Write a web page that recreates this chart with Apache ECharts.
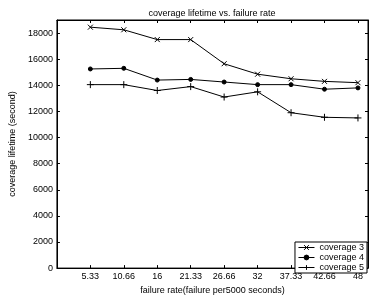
<!DOCTYPE html>
<html>
<head>
<meta charset="utf-8">
<script src="https://cdn.jsdelivr.net/npm/echarts@6/dist/echarts.min.js"></script>
<style>
  html, body { margin: 0; padding: 0; background: #fff; }
  #chart { width: 370px; height: 300px; }
</style>
</head>
<body>
<div id="chart"></div>
<script>
var xValues = [5.33, 10.66, 16, 21.33, 26.66, 32, 37.33, 42.66, 48];
var xTickLabels = ['5.33', '10.66', '16', '21.33', '26.66', '32', '37.33', '42.66', '48'];
var yTicks = [0, 2000, 4000, 6000, 8000, 10000, 12000, 14000, 16000, 18000];
var cov3 = [18450, 18250, 17500, 17500, 15650, 14850, 14500, 14300, 14200];
var cov4 = [15250, 15300, 14400, 14450, 14250, 14050, 14050, 13700, 13800];
var cov5 = [14050, 14050, 13600, 13900, 13100, 13500, 11900, 11550, 11500];
var names = ['coverage 3', 'coverage 4', 'coverage 5'];

function pairs(vals) {
  return vals.map(function (v, i) { return [xValues[i], v]; });
}
function xLabel(v) {
  for (var i = 0; i < xValues.length; i++) {
    if (Math.abs(xValues[i] - v) < 0.01) return xTickLabels[i];
  }
  return '';
}

var font = 'Liberation Sans, Arial, sans-serif';
var symX = 'path://M0,0L10,10M10,0L0,10';
var symPlus = 'path://M5,0L5,10M0,5L10,5';

var chart = echarts.init(document.getElementById('chart'));
var mk = function (name, data, symbol, size) {
  return {
    name: name,
    type: 'line',
    data: pairs(data),
    symbol: symbol,
    symbolSize: size,
    showSymbol: true,
    lineStyle: { color: '#000', width: 1 },
    itemStyle: { color: '#000', borderColor: '#000', borderWidth: 1 },
    emphasis: { disabled: true },
    animation: false
  };
};

var tickStyle = { color: '#000', width: 1 };

chart.setOption({
  animation: false,
  title: {
    text: 'coverage lifetime vs. failure rate',
    left: 207, top: 4, textAlign: 'center',
    textStyle: { fontSize: 9, fontWeight: 'normal', color: '#000', fontFamily: font }
  },
  grid: { left: 45, right: 2, top: 20, bottom: 24, show: true, borderColor: '#000', borderWidth: 1, backgroundColor: 'transparent' },
  legend: {
    data: names,
    orient: 'vertical',
    right: 3, bottom: 27,
    padding: [1, 3, 1, 3],
    itemGap: 1,
    itemWidth: 16, itemHeight: 6,
    backgroundColor: '#fff',
    borderColor: '#000', borderWidth: 1, borderRadius: 0,
    lineStyle: { width: 1 },
    itemStyle: { borderWidth: 1 },
    textStyle: { fontSize: 9, lineHeight: 9, color: '#000', fontFamily: font, padding: [0, 0, 0, 0] }
  },
  xAxis: [{
    type: 'value', min: 0, max: 49.6,
    name: 'failure rate(failure per5000 seconds)',
    nameLocation: 'middle', nameGap: 11,
    nameTextStyle: { fontSize: 9, color: '#000', fontFamily: font },
    axisLine: { lineStyle: tickStyle },
    axisTick: { inside: true, length: 3, customValues: xValues, lineStyle: tickStyle },
    axisLabel: { customValues: xValues, formatter: xLabel, fontSize: 9, color: '#000', fontFamily: font, margin: 4 },
    splitLine: { show: false }
  }, {
    type: 'value', min: 0, max: 49.6, position: 'top', gridIndex: 0,
    axisLine: { show: true, onZero: false, lineStyle: tickStyle },
    axisTick: { show: true, inside: true, length: 3, customValues: xValues, lineStyle: tickStyle },
    axisLabel: { show: false },
    splitLine: { show: false }
  }],
  yAxis: [{
    type: 'value', min: 0, max: 19000,
    name: 'coverage lifetime (second)',
    nameLocation: 'middle', nameGap: 31,
    nameTextStyle: { fontSize: 9, color: '#000', fontFamily: font },
    axisLine: { show: true, lineStyle: tickStyle },
    axisTick: { show: true, inside: true, length: 3, customValues: yTicks, lineStyle: tickStyle },
    axisLabel: { customValues: yTicks, formatter: function (v) { return String(v); }, fontSize: 9, color: '#000', fontFamily: font, margin: 4 },
    splitLine: { show: false }
  }, {
    type: 'value', min: 0, max: 19000, position: 'right', gridIndex: 0,
    axisLine: { show: true, onZero: false, lineStyle: tickStyle },
    axisTick: { show: true, inside: true, length: 3, customValues: yTicks, lineStyle: tickStyle },
    axisLabel: { show: false },
    splitLine: { show: false }
  }],
  series: [
    mk(names[0], cov3, symX, 5),
    mk(names[1], cov4, 'circle', 4),
    mk(names[2], cov5, symPlus, 7)
  ]
});
</script>
</body>
</html>
